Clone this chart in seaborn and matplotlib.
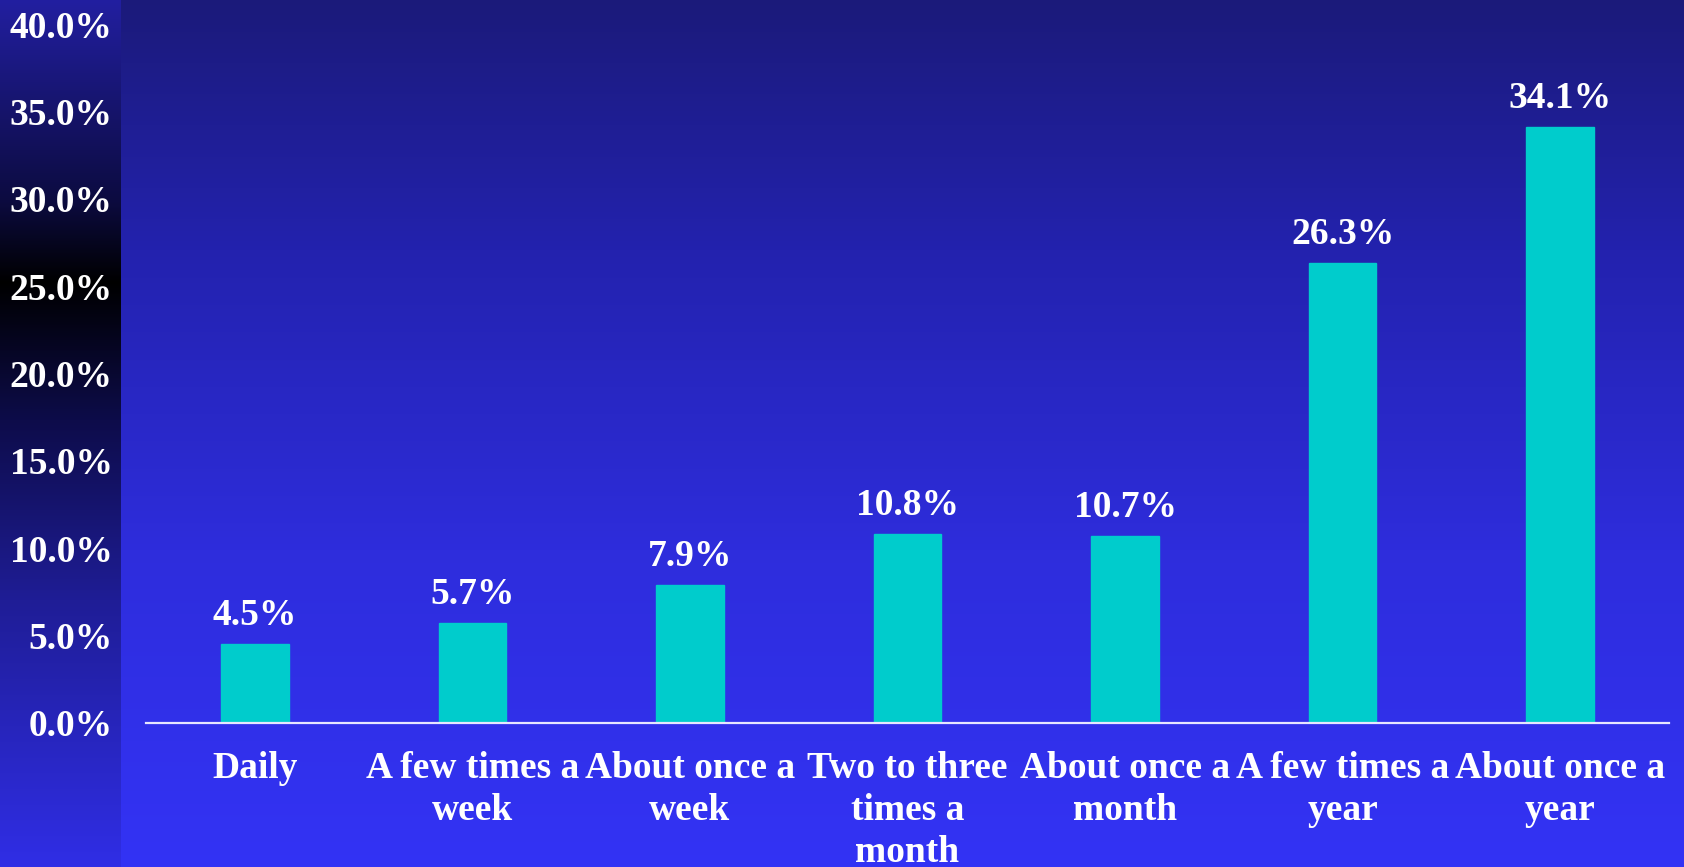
import numpy as np
import pandas as pd
import matplotlib
matplotlib.use("Agg")
import matplotlib.pyplot as plt
from matplotlib.colors import to_rgb
import seaborn as sns

categories = ["Daily", "A few times a\nweek", "About once a\nweek", "Two to three\ntimes a\nmonth",
              "About once a\nmonth", "A few times a\nyear", "About once a\nyear"]
values = [4.5, 5.7, 7.9, 10.8, 10.7, 26.3, 34.1]
yticks = [0, 5, 10, 15, 20, 25, 30, 35, 40]

sns.set_theme(style="white")
plt.rcParams['font.family'] = ['Liberation Serif', 'DejaVu Serif']
plt.rcParams['font.weight'] = 'bold'

W, H = 1684, 867
fig = plt.figure(figsize=(W / 100, H / 100), dpi=100)

# background
bg = fig.add_axes([0, 0, 1, 1], zorder=0)
bg.set_axis_off()
def grad(stops, n):
    ys = np.arange(n)
    cols = np.array([to_rgb(c) for _, c in stops])
    pos = np.array([p for p, _ in stops])
    out = np.stack([np.interp(ys, pos, cols[:, k]) for k in range(3)], axis=1)
    return out[:, None, :]
main = grad([(0, "#1b1a7a"), (250, "#2322ae"), (550, "#2e2ddc"), (867, "#3333f5")], H)
strip = grad([(0, "#221fa0"), (200, "#0c0b40"), (282, "#000000"), (420, "#0d0c4a"),
              (600, "#1f1d96"), (867, "#302ee6")], H)
bg.imshow(main, extent=[0, W, H, 0], aspect='auto', interpolation='bilinear')
bg.imshow(strip, extent=[0, 121, H, 0], aspect='auto', interpolation='bilinear')
bg.set_xlim(0, W)
bg.set_ylim(H, 0)

ax = fig.add_axes([146 / W, (H - 723) / H, (1669 - 146) / W, (723 - 24) / H], zorder=1)
ax.set_facecolor("none")
df = pd.DataFrame({"cat": categories, "val": values})
sns.barplot(data=df, x="cat", y="val", color="#00cccc", width=0.31, saturation=1, ax=ax,
            edgecolor="#00cccc")
ax.set_xlim(-0.5, 6.5)
ax.set_ylim(0, 40)
ax.set_yticks(yticks)
ax.set_yticklabels([f"{v:.1f}%" for v in yticks], fontsize=27, fontweight='bold', color='white')
ax.set_xlabel("")
ax.set_ylabel("")
for lab in ax.get_xticklabels():
    lab.set_fontsize(27)
    lab.set_fontweight('bold')
    lab.set_color('white')
    lab.set_linespacing(1.27)
ax.tick_params(axis='y', length=0, pad=24)
ax.tick_params(axis='x', length=0, pad=20)
for s in ["top", "right", "left"]:
    ax.spines[s].set_visible(False)
ax.spines["bottom"].set_color("#e6e6ff")
ax.spines["bottom"].set_linewidth(1.6)
ax.grid(False)

ax.bar_label(ax.containers[0], labels=[f"{v:.1f}%" for v in values], padding=8,
             fontsize=27, fontweight='bold', color='white')

fig.savefig("out.png", dpi=100)
